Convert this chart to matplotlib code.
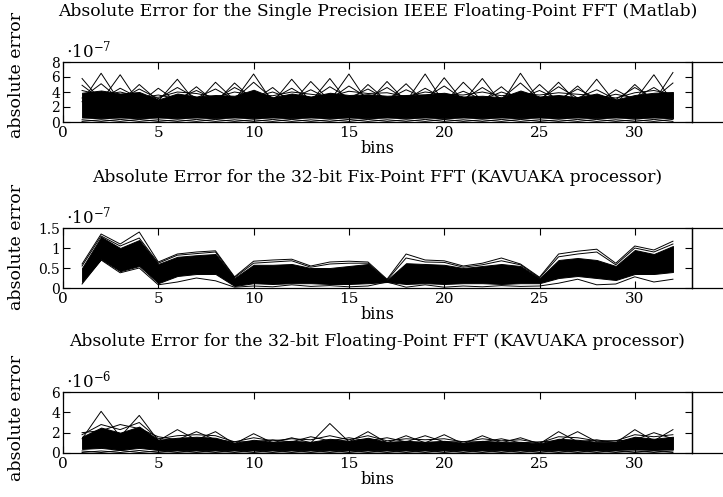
import numpy as np
import matplotlib
matplotlib.use("Agg")
import matplotlib.pyplot as plt

plt.rcParams['font.family'] = ['DejaVu Serif']
plt.rcParams['mathtext.fontset'] = 'dejavuserif'

bins = list(range(1, 33))

titles = [
    "Absolute Error for the Single Precision IEEE Floating-Point FFT (Matlab)",
    "Absolute Error for the 32-bit Fix-Point FFT (KAVUAKA processor)",
    "Absolute Error for the 32-bit Floating-Point FFT (KAVUAKA processor)",
]
exponents = [-7, -7, -6]
ylims = [8, 1.5, 6]
yticks = [[0, 2, 4, 6, 8], [0, 0.5, 1, 1.5], [0, 2, 4, 6]]
yticklabels = [["0", "2", "4", "6", "8"], ["0", "0.5", "1", "1.5"], ["0", "2", "4", "6"]]
xticks = [0, 5, 10, 15, 20, 25, 30]

# ---- panel 1 (x 1e-7) ----
p1_core_hi = [3.9, 4.2, 3.8, 4.0, 3.0, 3.8, 3.4, 3.6, 3.5, 4.3, 3.3, 3.8, 3.4, 3.9, 3.6, 3.7,
              3.5, 3.6, 3.7, 3.9, 3.4, 3.5, 3.3, 4.2, 3.4, 3.6, 3.3, 3.8, 3.0, 3.6, 3.9, 4.0]
p1_core_lo = [0.6, 0.5, 0.6, 0.5, 0.6, 0.5, 0.6, 0.5, 0.6, 0.5, 0.6, 0.5, 0.6, 0.5, 0.6, 0.5,
              0.6, 0.5, 0.6, 0.5, 0.6, 0.5, 0.6, 0.5, 0.6, 0.5, 0.6, 0.5, 0.6, 0.5, 0.6, 0.5]
p1_spikeA = [5.8, 2.8, 6.3, 2.5, 4.5, 2.7, 4.7, 2.6, 5.2, 2.9, 4.6, 2.5, 5.4, 2.8, 6.4, 2.6,
             5.4, 2.7, 6.4, 2.5, 5.3, 2.8, 4.7, 2.6, 5.0, 2.7, 4.8, 2.5, 4.3, 2.9, 6.3, 2.6]
p1_spikeB = [2.7, 6.5, 2.6, 5.0, 2.8, 5.7, 2.5, 5.3, 2.9, 6.4, 2.6, 5.7, 2.7, 5.8, 2.5, 5.0,
             2.8, 5.1, 2.6, 5.9, 2.7, 5.8, 2.5, 6.5, 2.8, 5.3, 2.6, 5.7, 2.5, 5.0, 2.7, 6.6]
p1_midA = [4.9, 3.0, 4.5, 3.2, 3.6, 3.1, 4.2, 3.0, 4.6, 3.3, 4.0, 3.1, 4.3, 3.0, 4.8, 3.2,
           4.6, 3.0, 4.5, 3.1, 4.1, 3.0, 4.0, 3.2, 4.2, 3.0, 4.4, 3.1, 3.7, 3.2, 4.6, 3.0]
p1_midB = [3.2, 5.1, 3.0, 4.4, 3.1, 4.6, 3.2, 4.4, 3.0, 5.3, 3.1, 4.5, 3.0, 4.7, 3.2, 4.4,
           3.0, 4.3, 3.2, 4.8, 3.0, 4.6, 3.1, 5.2, 3.0, 4.7, 3.2, 4.3, 3.0, 4.6, 3.1, 5.2]
p1_midC = [4.2, 3.6, 4.0, 3.4, 3.3, 4.0, 3.8, 3.3, 4.0, 3.6, 3.5, 4.0, 3.7, 3.4, 4.1, 3.8,
           3.9, 3.4, 4.0, 3.7, 3.6, 4.0, 3.5, 3.8, 3.6, 3.9, 3.7, 3.5, 3.2, 3.9, 4.2, 3.7]
p1_lowA = [0.3, 0.08, 0.35, 0.08, 0.3, 0.08, 0.35, 0.08, 0.3, 0.08, 0.35, 0.08, 0.3, 0.08, 0.35, 0.08,
           0.3, 0.08, 0.35, 0.08, 0.3, 0.08, 0.35, 0.08, 0.3, 0.08, 0.35, 0.08, 0.3, 0.08, 0.35, 0.08]
p1_lowB = [0.08, 0.3, 0.08, 0.35, 0.08, 0.3, 0.08, 0.35, 0.08, 0.3, 0.08, 0.35, 0.08, 0.3, 0.08, 0.35,
           0.08, 0.3, 0.08, 0.35, 0.08, 0.3, 0.08, 0.35, 0.08, 0.3, 0.08, 0.35, 0.08, 0.3, 0.08, 0.35]

# ---- panel 2 (x 1e-7) ----
p2_core_hi = [0.5, 1.28, 1.0, 1.2, 0.6, 0.78, 0.82, 0.85, 0.25, 0.58, 0.58, 0.6, 0.5, 0.5, 0.55, 0.6,
              0.2, 0.62, 0.6, 0.58, 0.5, 0.55, 0.6, 0.55, 0.24, 0.7, 0.75, 0.7, 0.55, 0.95, 0.85, 1.05]
p2_core_lo = [0.15, 0.72, 0.42, 0.55, 0.12, 0.3, 0.35, 0.35, 0.05, 0.12, 0.1, 0.12, 0.12, 0.1, 0.1, 0.12,
              0.15, 0.1, 0.12, 0.1, 0.12, 0.12, 0.1, 0.12, 0.12, 0.25, 0.3, 0.25, 0.2, 0.35, 0.35, 0.4]
p2_hi = [0.6, 1.35, 1.1, 1.4, 0.65, 0.85, 0.9, 0.93, 0.28, 0.67, 0.7, 0.72, 0.55, 0.65, 0.67, 0.65,
         0.22, 0.85, 0.7, 0.68, 0.55, 0.62, 0.75, 0.6, 0.27, 0.85, 0.92, 0.97, 0.62, 1.05, 0.95, 1.17]
p2_lo = [0.1, 0.7, 0.38, 0.5, 0.08, 0.15, 0.25, 0.18, 0.02, 0.05, 0.03, 0.08, 0.04, 0.06, 0.03, 0.05,
         0.15, 0.02, 0.08, 0.02, 0.05, 0.03, 0.06, 0.04, 0.05, 0.12, 0.22, 0.08, 0.1, 0.28, 0.15, 0.22]
p2_midA = [0.55, 1.3, 1.05, 1.25, 0.62, 0.82, 0.86, 0.9, 0.26, 0.62, 0.65, 0.68, 0.52, 0.6, 0.62, 0.62,
           0.2, 0.75, 0.65, 0.64, 0.52, 0.58, 0.68, 0.58, 0.25, 0.78, 0.85, 0.9, 0.58, 1.0, 0.9, 1.1]

# ---- panel 3 (x 1e-6) ----
p3_core_hi = [1.6, 2.5, 2.0, 2.6, 1.3, 1.5, 1.6, 1.5, 1.0, 1.3, 1.1, 1.2, 1.1, 1.4, 1.2, 1.5,
              1.1, 1.2, 1.1, 1.2, 1.0, 1.2, 1.1, 1.1, 0.95, 1.4, 1.3, 1.1, 1.1, 1.6, 1.4, 1.6]
p3_core_lo = [0.4, 0.5, 0.3, 0.5, 0.3, 0.3, 0.3, 0.3, 0.3, 0.3, 0.3, 0.3, 0.3, 0.3, 0.3, 0.3,
              0.3, 0.3, 0.3, 0.3, 0.3, 0.3, 0.3, 0.3, 0.3, 0.3, 0.3, 0.3, 0.3, 0.35, 0.3, 0.35]
p3_spikeA = [1.4, 4.1, 1.6, 3.7, 1.2, 2.3, 1.3, 2.1, 0.9, 1.9, 1.0, 1.5, 1.0, 2.9, 1.1, 2.1,
             1.0, 1.7, 1.0, 1.8, 0.9, 1.7, 1.0, 1.5, 0.9, 2.1, 1.1, 1.3, 1.0, 2.3, 1.2, 2.3]
p3_spikeB = [2.0, 2.2, 2.8, 2.4, 1.6, 1.3, 2.1, 1.3, 1.1, 1.1, 1.3, 1.1, 1.6, 1.2, 1.5, 1.2,
             1.5, 1.1, 1.7, 1.1, 1.1, 1.1, 1.4, 1.0, 1.1, 1.2, 2.1, 1.1, 1.2, 1.3, 2.0, 1.4]
p3_midC = [1.8, 2.8, 2.3, 3.0, 1.4, 1.7, 1.8, 1.7, 1.1, 1.5, 1.2, 1.4, 1.3, 1.7, 1.3, 1.7,
           1.2, 1.4, 1.3, 1.4, 1.1, 1.4, 1.2, 1.3, 1.0, 1.6, 1.5, 1.2, 1.2, 1.8, 1.6, 1.8]
p3_lowA = [0.2, 0.05, 0.25, 0.05, 0.2, 0.05, 0.2, 0.05, 0.2, 0.05, 0.2, 0.05, 0.2, 0.05, 0.2, 0.05,
           0.2, 0.05, 0.2, 0.05, 0.2, 0.05, 0.2, 0.05, 0.2, 0.05, 0.2, 0.05, 0.2, 0.05, 0.2, 0.05]
p3_lowB = [0.05, 0.2, 0.05, 0.25, 0.05, 0.2, 0.05, 0.2, 0.05, 0.2, 0.05, 0.2, 0.05, 0.2, 0.05, 0.2,
           0.05, 0.2, 0.05, 0.2, 0.05, 0.2, 0.05, 0.2, 0.05, 0.2, 0.05, 0.2, 0.05, 0.2, 0.05, 0.2]

panels = [
    (p1_core_lo, p1_core_hi, [p1_spikeA, p1_spikeB, p1_midA, p1_midB, p1_midC, p1_lowA, p1_lowB]),
    (p2_core_lo, p2_core_hi, [p2_hi, p2_lo, p2_midA]),
    (p3_core_lo, p3_core_hi, [p3_spikeA, p3_spikeB, p3_midC, p3_lowA, p3_lowB]),
]

W, H = 723, 497
fig = plt.figure(figsize=(W / 100, H / 100), dpi=100)

left_px, right_px = 63, 692
tops = [62, 228, 392]
bots = [122, 288, 453]
ylabel_centers = [75, 247, 418]

for i in range(3):
    l = left_px / W
    w = (right_px - left_px) / W
    b = 1 - bots[i] / H
    hp = bots[i] - tops[i]
    h = hp / H
    ax = fig.add_axes([l, b, w, h])
    lo, hi, lines = panels[i]
    ax.fill_between(bins, lo, hi, color='black', lw=0.7)
    for ln in lines:
        ax.plot(bins, ln, color='black', lw=0.7)
    ax.set_xlim(0, 33)
    ax.set_ylim(0, ylims[i])
    ax.set_xticks(xticks)
    ax.set_yticks(yticks[i])
    ax.set_yticklabels(yticklabels[i])
    ax.tick_params(direction='in', top=True, right=True, length=5, width=0.8,
                   labelsize=10, pad=3)
    ax.tick_params(axis='x', labeltop=False, pad=3, labelsize=11)
    ax.tick_params(axis='y', pad=2)
    for s in ax.spines.values():
        s.set_linewidth(0.9)
    ax.set_title(titles[i], fontsize=12.3, pad=33)
    ax.set_ylabel("absolute error", fontsize=12.5)
    ax.yaxis.set_label_coords(-0.06, (bots[i] - ylabel_centers[i]) / hp)
    ax.set_xlabel("bins", fontsize=11.5)
    ax.xaxis.set_label_coords(0.5, -0.30)
    ax.text(0.005, 1.08, r'$\cdot 10^{%d}$' % exponents[i], transform=ax.transAxes,
            fontsize=12, ha='left', va='baseline')
    # continuation of the frame to the right edge
    ax2 = fig.add_axes([right_px / W, b, 0.1, h])
    ax2.set_xticks([])
    ax2.set_yticks([])
    ax2.spines['right'].set_visible(False)
    for s in ax2.spines.values():
        s.set_linewidth(0.9)
    ax2.patch.set_alpha(0)

fig.savefig("out.png", dpi=100)
